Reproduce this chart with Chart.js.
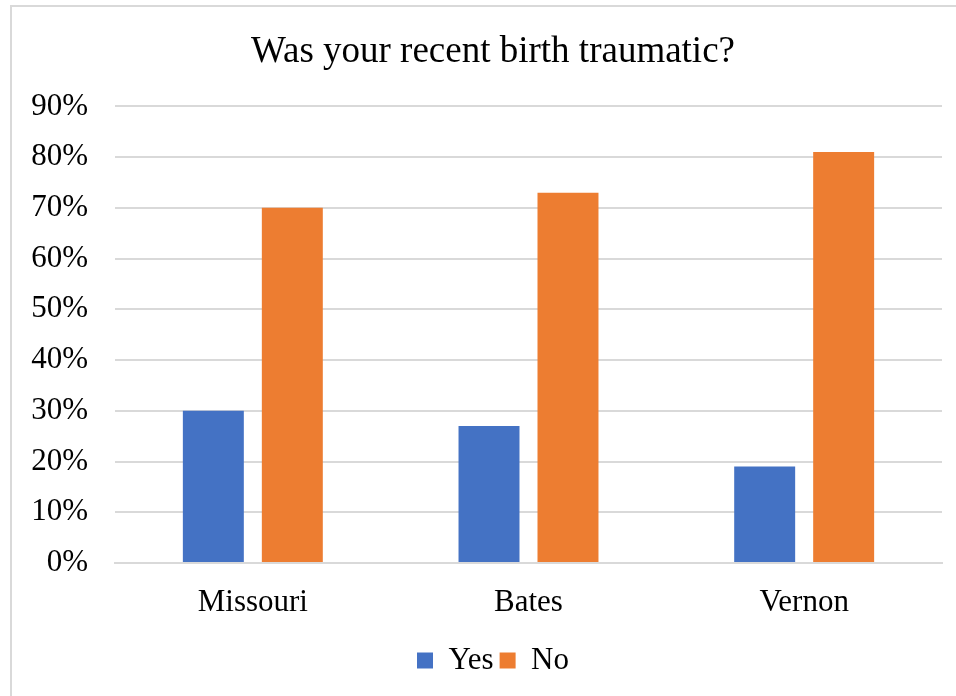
<!DOCTYPE html>
<html>
<head>
<meta charset="utf-8">
<script src="https://cdn.jsdelivr.net/npm/chart.js@4"></script>
<style>
  html, body { margin: 0; padding: 0; background: #fff; overflow: hidden; }
  #wrap { position: relative; width: 956px; height: 696px; overflow: hidden; }
  #frame { position: absolute; left: 10px; top: 5px; width: 1000px; height: 1000px; border: 2px solid #d9d9d9; box-sizing: border-box; }
  canvas { position: absolute; left: 0; top: 0; }
</style>
</head>
<body>
<div id="wrap">
  <div id="frame"></div>
  <canvas id="myChart" width="988" height="696"></canvas>
</div>
<script>
// chart values
const counties = ['Missouri', 'Bates', 'Vernon']
const yesValues = [30, 27, 19]
const noValues = [70, 73, 81]
const seriesNames = ['Yes', 'No']
const chartTitle = 'Was your recent birth traumatic?'

const serif = "'Liberation Serif', 'Times New Roman', serif"

const ctx = document.getElementById('myChart')

const myChart = new Chart(ctx, {
  type: 'bar',
  data: {
    labels: counties,
    datasets: [{
      label: seriesNames[0],
      data: yesValues,
      backgroundColor: '#4472C4',
      barPercentage: 0.772,
      categoryPercentage: 0.573
    }, {
      label: seriesNames[1],
      data: noValues,
      backgroundColor: '#ED7D31',
      barPercentage: 0.772,
      categoryPercentage: 0.573
    }]
  },
  options: {
    responsive: false,
    animation: false,
    devicePixelRatio: 1,
    layout: {
      padding: { left: 12, right: 14, top: 30, bottom: 10 }
    },
    plugins: {
      title: {
        display: true,
        text: chartTitle,
        color: '#000',
        font: { family: serif, size: 37, weight: 'normal' },
        padding: { top: 0, bottom: 32 }
      },
      legend: {
        position: 'bottom',
        labels: {
          color: '#000',
          font: { family: serif, size: 31 },
          boxWidth: 16,
          boxHeight: 16,
          padding: 6
        }
      },
      tooltip: { enabled: false }
    },
    scales: {
      x: {
        afterFit: function (scale) { scale.height = 76 },
        grid: { display: false },
        border: { color: '#d9d9d9', width: 2 },
        ticks: {
          color: '#000',
          font: { family: serif, size: 31 },
          padding: 13
        }
      },
      y: {
        min: 0,
        max: 90,
        afterFit: function (scale) { scale.width = 103 },
        border: { display: false },
        grid: { color: '#d9d9d9', lineWidth: 2, drawTicks: false },
        ticks: {
          stepSize: 10,
          color: '#000',
          padding: 27,
          font: { family: serif, size: 31 },
          callback: function (v) { return v + '%' }
        }
      },
      // empty spacer on the right so the title sits where Excel put it
      y2: {
        position: 'right',
        afterFit: function (scale) { scale.width = 32 },
        border: { display: false },
        grid: { display: false, drawTicks: false },
        ticks: { display: false }
      }
    }
  }
})
</script>
</body>
</html>
